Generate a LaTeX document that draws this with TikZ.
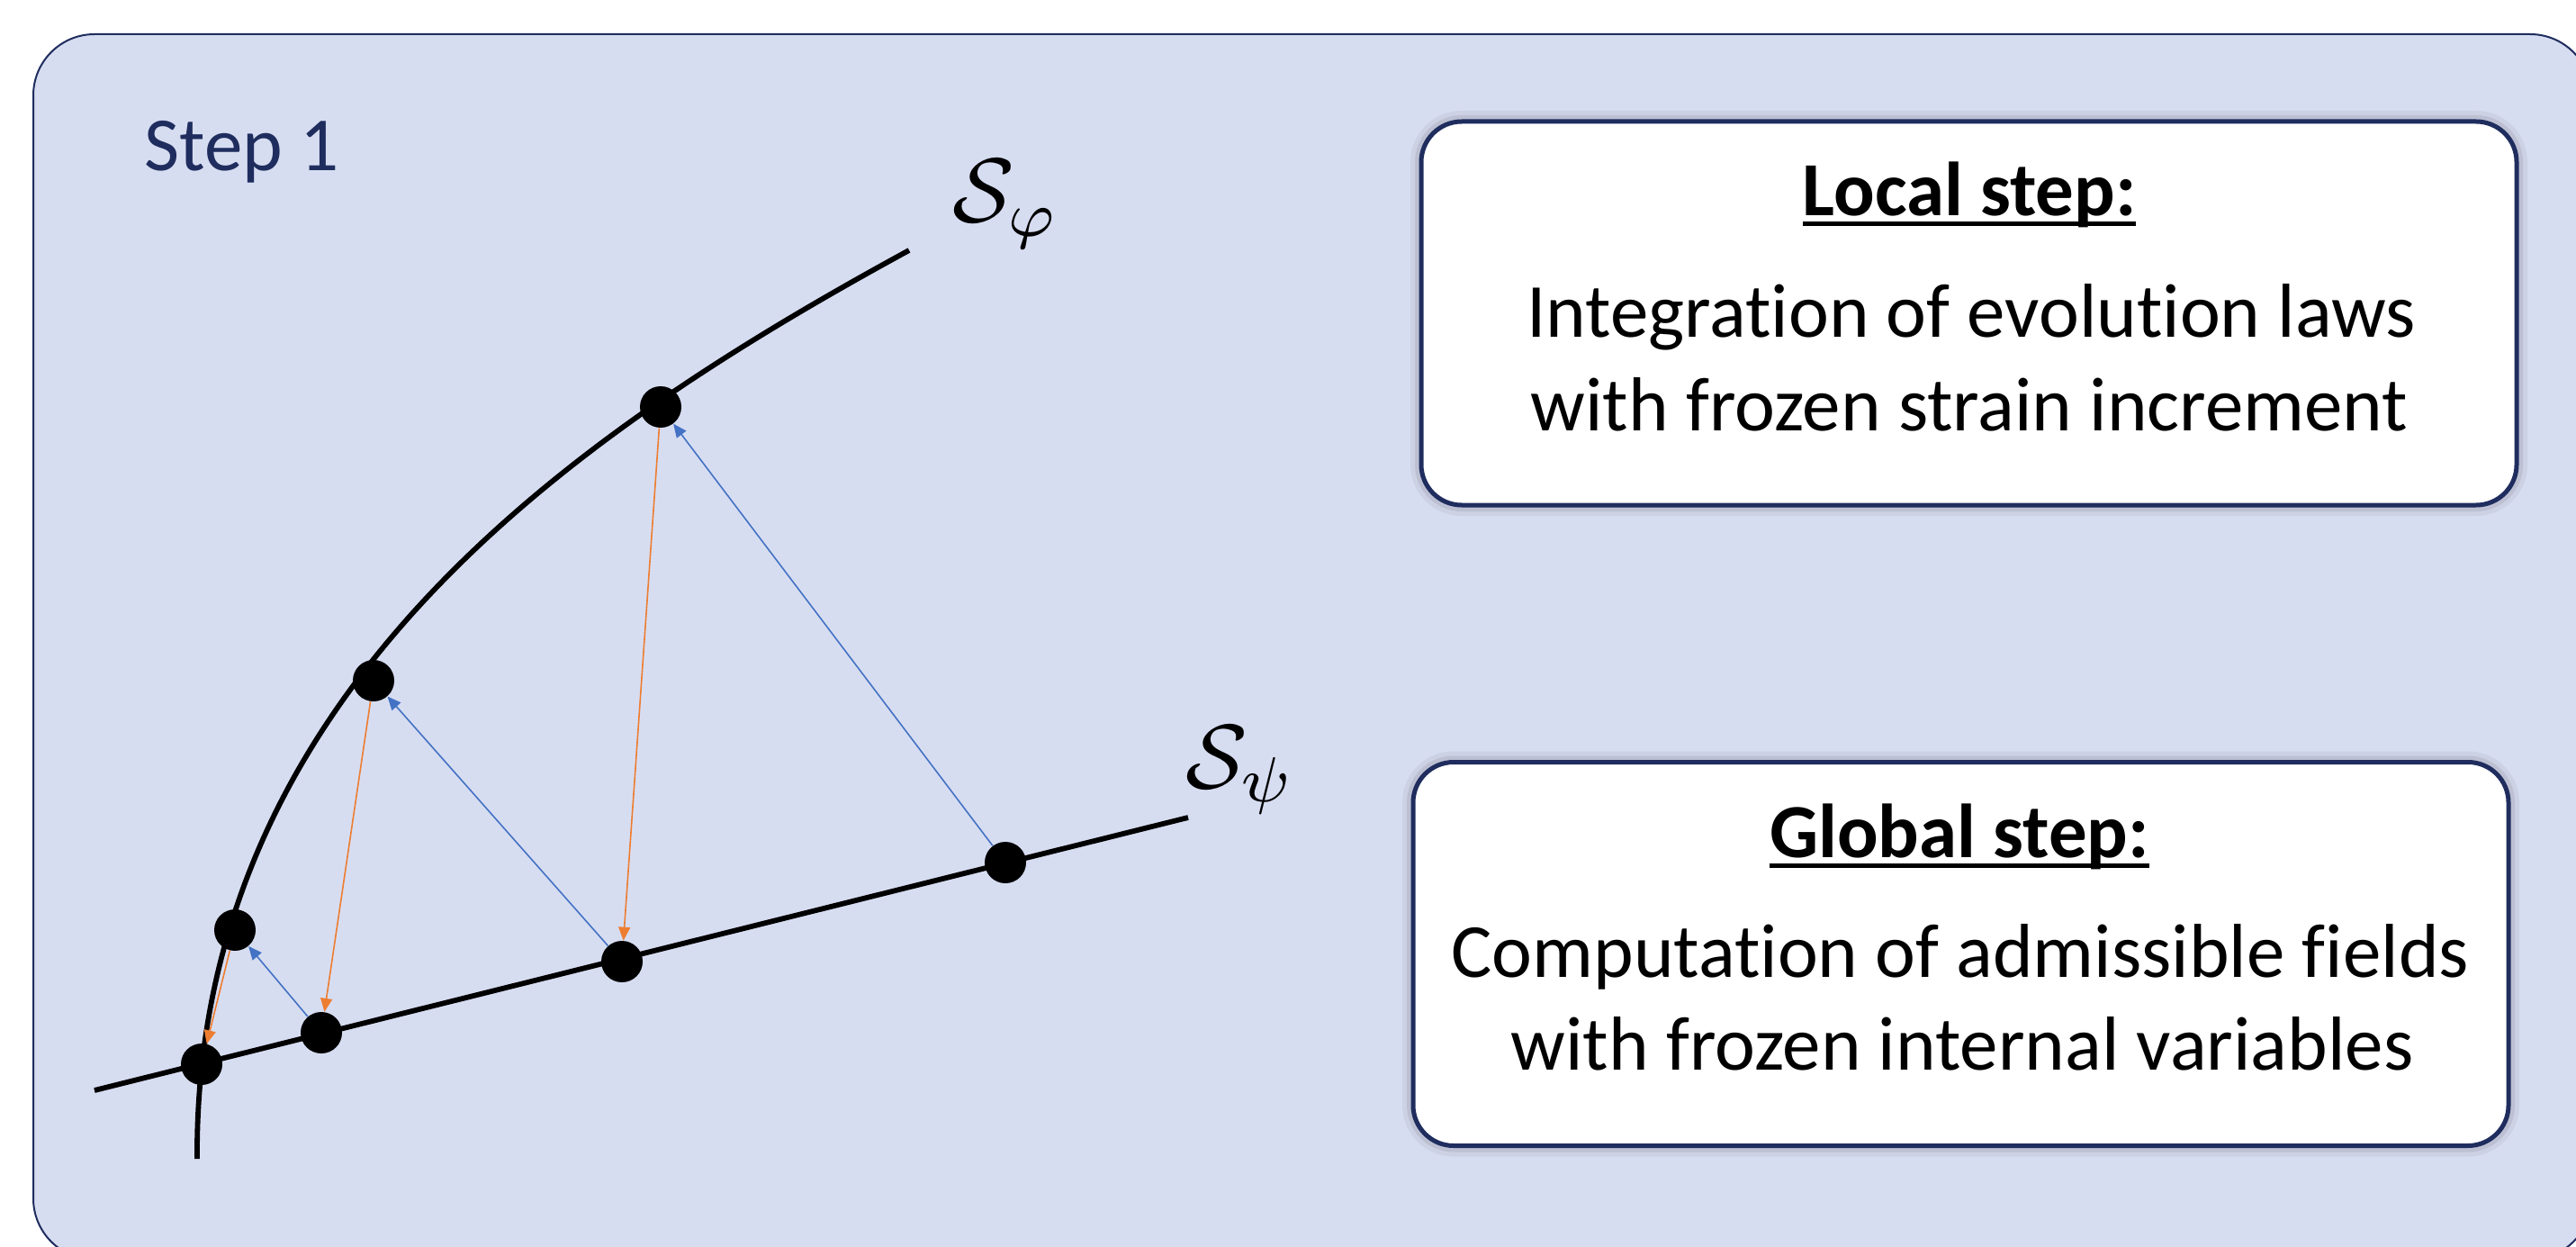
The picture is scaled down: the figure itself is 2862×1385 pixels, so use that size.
\documentclass[tikz,border=0pt]{standalone}
\usepackage{graphicx}
\usepackage{fontspec}
\setmainfont{Carlito}[Ligatures={NoCommon,NoRequired},Contextuals=NoAlternate]
\usetikzlibrary{arrows.meta}
\definecolor{bgfill}{RGB}{215,221,241}
\definecolor{navy}{HTML}{1F2D5E}
\definecolor{oblue}{HTML}{4472C4}
\definecolor{oorange}{HTML}{ED7D31}
\newcommand\myul[1]{\setbox0\hbox{#1}\rlap{\rule[-5.75pt]{\wd0}{2.5pt}}\box0}
\begin{document}
\begin{tikzpicture}[x=0.5pt,y=-0.5pt,
  dot/.style={circle, fill=black, inner sep=0pt, minimum size=23pt},
  curveline/.style={line width=2.9pt, black},
  barrow/.style={oblue, line width=0.8pt, -{Triangle[length=7.5pt,width=6.5pt]}},
  oarrow/.style={oorange, line width=0.8pt, -{Triangle[length=7.5pt,width=6.5pt]}},
  infobox/.style={draw=navy, line width=2.5pt, fill=white, rounded corners=22.5pt,
    minimum width=608.5pt, minimum height=213pt, inner sep=0pt,
    preaction={draw=black, draw opacity=0.05, line width=12pt},
    preaction={draw=black, draw opacity=0.08, line width=7pt}},
  boxtext/.style={font=\fontsize{42.5pt}{51pt}\selectfont, inner sep=0pt, anchor=base},
  steptext/.style={font=\fontsize{42.5pt}{51pt}\selectfont, text=navy, inner sep=0pt, anchor=base west},
  mathlab/.style={font=\normalsize, inner sep=0pt, anchor=base west}
]
\useasboundingbox (0,0) rectangle (2862,1385);
\begin{scope}
  \clip (0,0) rectangle (2862,1385);
  \draw[navy, line width=1pt, fill=bgfill, rounded corners=34pt] (37,38) rectangle (2879,1399);
\end{scope}

\node[steptext] (step) at (160,190) {Step 1};

% info boxes
\node[infobox] (local) at (2187.5,348) {};
\node[infobox] (global) at (2178.5,1059.5) {};
\node[boxtext] (localT) at (2188,240) {\textbf{\myul{Local step:}}};
\node[boxtext] (localA) at (2190,375) {Integration of evolution laws};
\node[boxtext] (localB) at (2188,478) {with frozen strain increment};
\node[boxtext] (globalT) at (2177,952) {\textbf{\myul{Global step:}}};
\node[boxtext] (globalA) at (2178,1085) {Computation of admissible fields};
\node[boxtext] (globalB) at (2180,1188) {with frozen internal variables};

% surfaces
\coordinate (phiA) at (219,1287);
\coordinate (phiB) at (1010,278);
\draw[curveline] (phiA) .. controls (216,767) and (641,479) .. (phiB);
\coordinate (psiA) at (105,1211);
\coordinate (psiB) at (1320,908);
\draw[curveline] (psiA) -- (psiB);

\node[mathlab] (sphi) at (1058,247) {\scalebox{5.05}{$\mathcal{S}_\varphi$}};
\node[mathlab] (spsi) at (1317,875) {\scalebox{5.05}{$\mathcal{S}_\psi$}};

% points
\node[dot] (p0) at (224,1182) {};
\node[dot] (p1) at (261,1033) {};
\node[dot] (q1) at (357,1147) {};
\node[dot] (p2) at (415,756) {};
\node[dot] (q2) at (691,1068) {};
\node[dot] (p3) at (734,452) {};
\node[dot] (q3) at (1117,958) {};

% iterations
\draw[barrow] (q3) -- (p3);
\draw[oarrow] (p3) -- (q2);
\draw[barrow] (q2) -- (p2);
\draw[oarrow] (p2) -- (q1);
\draw[barrow] (q1) -- (p1);
\draw[oarrow] (p1) -- (p0);
\end{tikzpicture}
\end{document}
